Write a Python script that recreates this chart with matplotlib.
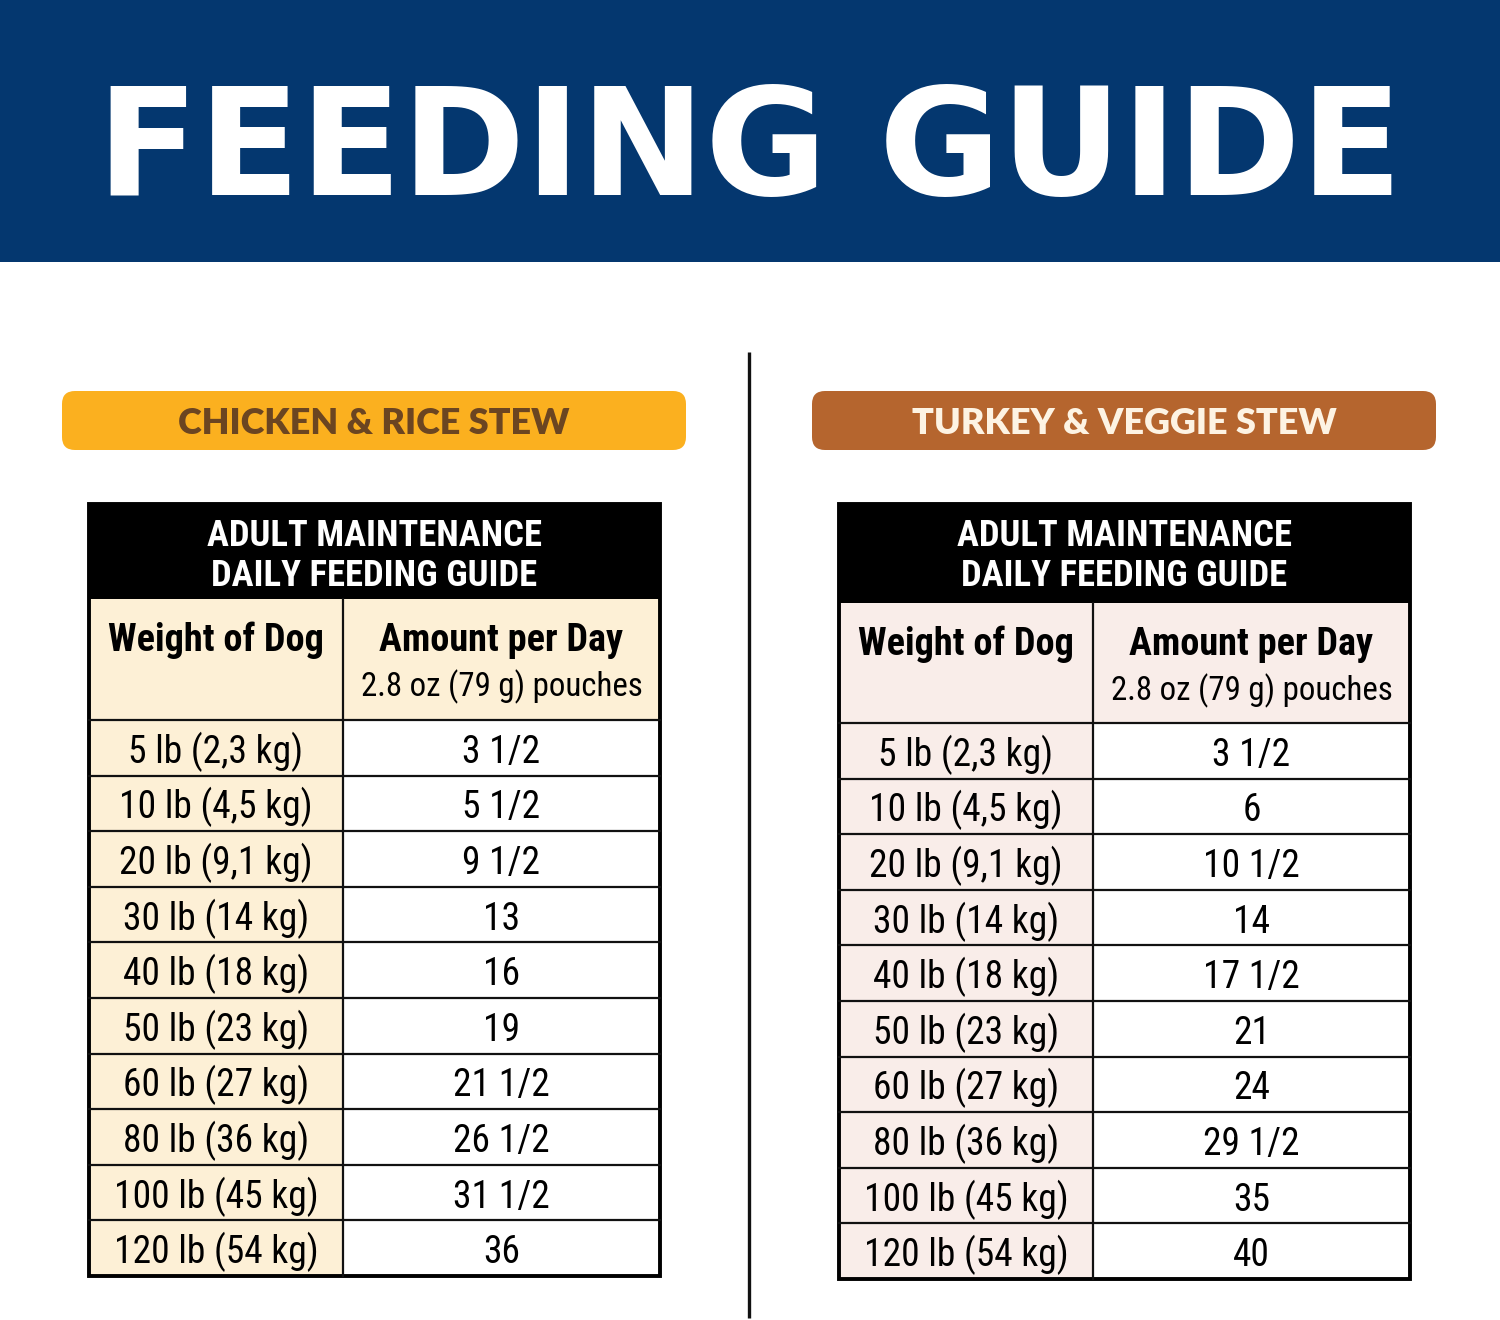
import matplotlib
matplotlib.use("Agg")
import matplotlib.pyplot as plt
from matplotlib import font_manager as fm
from matplotlib.patches import Rectangle, FancyBboxPatch

# 데이터
weights = ["5 lb (2,3 kg)", "10 lb (4,5 kg)", "20 lb (9,1 kg)", "30 lb (14 kg)",
           "40 lb (18 kg)", "50 lb (23 kg)", "60 lb (27 kg)", "80 lb (36 kg)",
           "100 lb (45 kg)", "120 lb (54 kg)"]
chicken_amounts = ["3 1/2", "5 1/2", "9 1/2", "13", "16", "19", "21 1/2", "26 1/2", "31 1/2", "36"]
turkey_amounts = ["3 1/2", "6", "10 1/2", "14", "17 1/2", "21", "24", "29 1/2", "35", "40"]
products = ["CHICKEN & RICE STEW", "TURKEY & VEGGIE STEW"]
header_lines = ["ADULT MAINTENANCE", "DAILY FEEDING GUIDE"]
col_titles = ["Weight of Dog", "Amount per Day"]
col_sub = "2.8 oz (79 g) pouches"
title = "FEEDING GUIDE"

BLUE = "#04376f"

# 좁은 글꼴 고르기 (없으면 Roboto)
_names = {f.name for f in fm.fontManager.ttflist}
_cond = {f.name for f in fm.fontManager.ttflist
         if str(f.stretch) in ("condensed", "semi-condensed", "extra-condensed", "ultra-condensed")}
NARROW = {"family": ["Roboto", "DejaVu Sans"], "stretch": "normal"}
for cand in ["Liberation Sans Narrow", "Roboto Condensed", "Noto Sans Condensed",
             "Open Sans Condensed", "Arial Narrow"]:
    if cand in _names:
        NARROW = {"family": [cand, "DejaVu Sans"], "stretch": "normal"}
        break
else:
    for cand in ["Roboto", "Noto Sans", "Open Sans", "DejaVu Sans", "Liberation Sans"]:
        if cand in _cond:
            NARROW = {"family": [cand, "DejaVu Sans"], "stretch": "condensed"}
            break

fig = plt.figure(figsize=(15, 13.2), dpi=100)
ax = fig.add_axes([0, 0, 1, 1])
ax.set_xlim(0, 1500)
ax.set_ylim(1320, 0)
ax.axis("off")
renderer = fig.canvas.get_renderer()


def fit_size(s, width_px, **kw):
    """글자 폭이 width_px가 되도록 fontsize 계산."""
    t = ax.text(0, 0, s, fontsize=20, **kw)
    w = t.get_window_extent(renderer).width
    t.remove()
    return 20 * width_px / w


# 상단 배너
ax.add_patch(Rectangle((0, 0), 1500, 262, color=BLUE, lw=0))
fs_title = fit_size(title, 1300, family=["DejaVu Sans"], fontweight="bold")
ax.text(750, 195, title, color="white", fontsize=fs_title, fontweight="bold",
        family=["DejaVu Sans"], ha="center", va="baseline")

# 가운데 구분선
ax.plot([749, 749], [352, 1318], color="#111111", lw=2.4, solid_capstyle="butt")

PILL_FONT = dict(family=["Lato", "DejaVu Sans"], fontweight="heavy")
fs_pill = fit_size(products[0], 391, **PILL_FONT)

FS_ROW = fit_size("120 lb (54 kg)", 205, **NARROW)
FS_COL = fit_size(col_titles[0], 215, fontweight="bold", **NARROW)
FS_SUB = fit_size(col_sub, 282, **NARROW)
FS_HDR = fit_size(header_lines[0], 335, fontweight="bold", **NARROW)


def draw_pill(x0, label, face, fg):
    ax.add_patch(FancyBboxPatch((x0, 391), 624, 59, boxstyle="round,pad=0,rounding_size=13",
                                fc=face, ec="none"))
    ax.text(x0 + 312, 434, label, color=fg, fontsize=fs_pill, ha="center", va="baseline",
            **PILL_FONT)


def draw_table(x0, y0, hdr_h, colhdr_h, amounts, side_color):
    w, split = 571, 254
    row_h = 55.6
    y_rows = y0 + hdr_h + colhdr_h
    bottom = y_rows + row_h * len(amounts)
    xl = x0 + split / 2
    xr = x0 + split + (w - split) / 2
    # 배경
    ax.add_patch(Rectangle((x0, y0 + hdr_h), split, bottom - y0 - hdr_h, fc=side_color, ec="none"))
    ax.add_patch(Rectangle((x0 + split, y0 + hdr_h), w - split, colhdr_h, fc=side_color, ec="none"))
    ax.add_patch(Rectangle((x0 + split, y_rows), w - split, bottom - y_rows, fc="white", ec="none"))
    ax.add_patch(Rectangle((x0, y0), w, hdr_h, fc="black", ec="none"))
    for k, line in enumerate(header_lines):
        ax.text(x0 + w / 2, y0 + 42 + 40 * k, line, color="white", fontsize=FS_HDR,
                fontweight="bold", ha="center", va="baseline", **NARROW)
    # 열 제목
    yb = y0 + hdr_h + 52
    ax.text(xl, yb, col_titles[0], fontsize=FS_COL, fontweight="bold",
            ha="center", va="baseline", **NARROW)
    ax.text(xr, yb, col_titles[1], fontsize=FS_COL, fontweight="bold",
            ha="center", va="baseline", **NARROW)
    ax.text(xr, yb + 45, col_sub, fontsize=FS_SUB, ha="center", va="baseline", **NARROW)
    # 행
    for i, (wt, amt) in enumerate(zip(weights, amounts)):
        yc = y_rows + row_h * (i + 0.5) + 15
        ax.text(xl, yc, wt, fontsize=FS_ROW, ha="center", va="baseline", **NARROW)
        ax.text(xr, yc, amt, fontsize=FS_ROW, ha="center", va="baseline", **NARROW)
        ax.plot([x0, x0 + w], [y_rows + row_h * i] * 2, color="#111111", lw=1.6)
    ax.plot([x0 + split] * 2, [y0 + hdr_h, bottom], color="#111111", lw=1.6)
    ax.add_patch(Rectangle((x0, y0), w, bottom - y0, fc="none", ec="black", lw=2.8))


draw_pill(62, products[0], "#fbb01f", "#6b4521")
draw_pill(812, products[1], "#b5652e", "#fdf3e3")
draw_table(89, 504, 95, 121, chicken_amounts, "#fdf0d6")
draw_table(839, 504, 99, 120, turkey_amounts, "#f9ede9")

fig.savefig("out.png", dpi=100)
